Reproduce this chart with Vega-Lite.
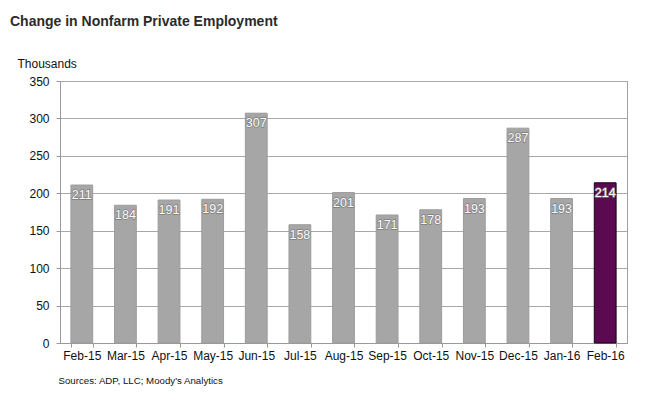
{
  "$schema": "https://vega.github.io/schema/vega-lite/v6.json",
  "width": 567,
  "height": 262,
  "autosize": {"type": "none"},
  "padding": {"left": 60, "top": 81, "right": 27, "bottom": 60},
  "title": {
    "text": "Change in Nonfarm Private Employment",
    "anchor": "start",
    "frame": "group",
    "dx": -50,
    "offset": 28,
    "font": "Liberation Sans",
    "fontSize": 14,
    "fontWeight": "bold",
    "color": "#2b2b2b"
  },
  "data": {
    "values": [
      {"month": "Feb-15", "value": 211, "latest": "no"},
      {"month": "Mar-15", "value": 184, "latest": "no"},
      {"month": "Apr-15", "value": 191, "latest": "no"},
      {"month": "May-15", "value": 192, "latest": "no"},
      {"month": "Jun-15", "value": 307, "latest": "no"},
      {"month": "Jul-15", "value": 158, "latest": "no"},
      {"month": "Aug-15", "value": 201, "latest": "no"},
      {"month": "Sep-15", "value": 171, "latest": "no"},
      {"month": "Oct-15", "value": 178, "latest": "no"},
      {"month": "Nov-15", "value": 193, "latest": "no"},
      {"month": "Dec-15", "value": 287, "latest": "no"},
      {"month": "Jan-16", "value": 193, "latest": "no"},
      {"month": "Feb-16", "value": 214, "latest": "yes"}
    ]
  },
  "encoding": {
    "x": {
      "field": "month",
      "type": "ordinal",
      "sort": null,
      "scale": {"paddingInner": 0.5, "paddingOuter": 0.25},
      "axis": {
        "title": "Sources: ADP,  LLC; Moody's Analytics",
        "titleFont": "Liberation Sans",
        "titleFontSize": 9.7,
        "titleFontWeight": "normal",
        "titleColor": "#111",
        "titleAnchor": "start",
        "titleAlign": "left",
        "titleX": -2,
        "titleY": 37,
        "titleBaseline": "middle",
        "labelAngle": 0,
        "labelFont": "Liberation Sans",
        "labelFontSize": 12,
        "labelColor": "#111",
        "labelPadding": 3,
        "tickBand": "extent",
        "tickSize": 4,
        "tickColor": "#999",
        "domainColor": "#999",
        "grid": false
      }
    },
    "y": {
      "field": "value",
      "type": "quantitative",
      "scale": {"domain": [0, 350]},
      "axis": {
        "values": [0, 50, 100, 150, 200, 250, 300, 350],
        "title": "Thousands",
        "titleAngle": 0,
        "titleAlign": "left",
        "titleBaseline": "middle",
        "titleX": -43,
        "titleY": -18,
        "titleFont": "Liberation Sans",
        "titleFontSize": 12,
        "titleFontWeight": "normal",
        "titleColor": "#111",
        "labelFont": "Liberation Sans",
        "labelFontSize": 12,
        "labelColor": "#111",
        "labelPadding": 7,
        "tickSize": 4,
        "tickColor": "#999",
        "domainColor": "#999",
        "gridColor": "#a8a8a8",
        "gridWidth": 1
      }
    }
  },
  "layer": [
    {
      "mark": {"type": "bar", "strokeWidth": 1},
      "encoding": {
        "color": {
          "field": "latest",
          "type": "nominal",
          "scale": {"domain": ["no", "yes"], "range": ["#a6a6a6", "#5b0a52"]},
          "legend": null
        },
        "stroke": {
          "field": "latest",
          "type": "nominal",
          "scale": {"domain": ["no", "yes"], "range": ["#9c9c9c", "#1a0018"]},
          "legend": null
        }
      }
    },
    {
      "mark": {"type": "text", "baseline": "middle", "dy": 10, "font": "Liberation Sans", "fontSize": 12.5, "stroke": "#7a7a7a", "strokeWidth": 1.3, "fill": "#ffffff"},
      "encoding": {"text": {"field": "value", "type": "quantitative"}}
    },
    {
      "mark": {"type": "text", "baseline": "middle", "dy": 10, "font": "Liberation Sans", "fontSize": 12.5, "fill": "#ffffff"},
      "encoding": {"text": {"field": "value", "type": "quantitative"}}
    }
  ],
  "config": {
    "view": {"stroke": "#a0a0a0"},
    "background": "#ffffff"
  }
}
